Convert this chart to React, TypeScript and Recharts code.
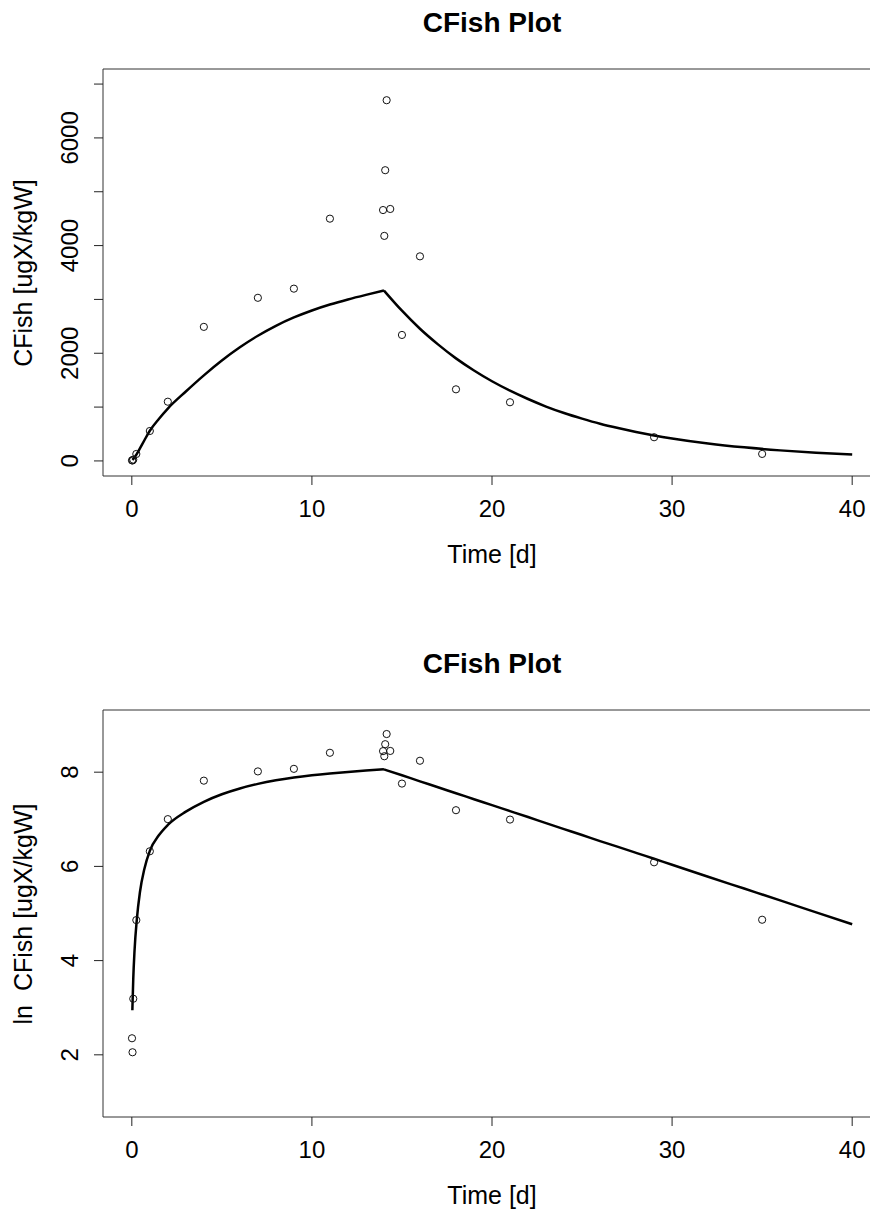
import { ComposedChart, Line, Scatter, XAxis, YAxis, ReferenceLine } from "recharts";

// measured data (time in days, CFish in ugX/kgW)
const obsTime = [0.01, 0.04, 0.08, 0.25, 1, 2, 4, 7, 9, 11, 13.95, 14.02, 14.07, 14.15, 14.35, 15, 16, 18, 21, 29, 35];
const obsConc = [10.5, 7.8, 24.3, 129, 556, 1100, 2490, 3030, 3200, 4500, 4660, 4180, 5400, 6700, 4680, 2340, 3800, 1330, 1090, 440, 130];

// fitted model curve: uptake phase, then depuration
const uptakeTime = [0.03, 0.08, 0.15, 0.28, 0.45, 0.7, 1, 1.5, 2, 3, 4, 5, 6, 7, 8, 9, 10, 11, 12, 13, 14];
const uptakeConc = [19, 37, 67, 132, 233, 384, 561, 780, 973, 1290, 1590, 1865, 2110, 2325, 2510, 2665, 2795, 2905, 3000, 3085, 3165];
const depurTime = [14, 15, 16, 17, 18, 19, 20, 21, 22, 23, 24, 25, 26, 27, 28, 29, 30, 32, 34, 36, 38, 40];
const depurConc = [3165, 2790, 2455, 2165, 1905, 1680, 1480, 1305, 1150, 1010, 890, 785, 690, 610, 538, 474, 418, 324, 252, 196, 152, 118];

const timeTicks = [0, 10, 20, 30, 40];
const concTicks = [0, 1000, 2000, 3000, 4000, 5000, 6000, 7000];
const concLabels = [0, 2000, 4000, 6000];
const lnTicks = [2, 4, 6, 8];

const FONT = "'Liberation Sans', Arial, Helvetica, sans-serif";
const X_DOMAIN: [number, number] = [-1.6, 41.6];

const pairs = (ts: number[], vs: number[], f: (v: number) => number = (v) => v) =>
  ts.map((t, i) => ({ t, v: f(vs[i]) }));

// eslint-disable-next-line @typescript-eslint/no-explicit-any
function RotatedTick({ x, y, payload, show }: any) {
  if (!show.includes(payload.value)) return <g />;
  return (
    <text x={x} y={y} transform={`rotate(-90 ${x} ${y})`} textAnchor="middle" fontSize={24} fill="#000">
      {payload.value}
    </text>
  );
}

// eslint-disable-next-line @typescript-eslint/no-explicit-any
function OpenCircle({ cx, cy }: any) {
  return <circle cx={cx} cy={cy} r={3.6} fill="none" stroke="#111" strokeWidth={1} />;
}

type Pt = { t: number; v: number };
type PanelProps = {
  top: number;
  yTitle: string;
  yDomain: [number, number];
  yTicks: number[];
  yLabels: number[];
  points: Pt[];
  curves: Pt[][];
};

function Panel({ top, yTitle, yDomain, yTicks, yLabels, points, curves }: PanelProps) {
  return (
    <div style={{ position: "absolute", left: 0, top, width: 881, height: 576 }}>
      <div
        style={{
          position: "absolute",
          left: 0,
          width: 984,
          top: 23,
          transform: "translateY(-50%)",
          textAlign: "center",
          fontSize: 28,
          fontWeight: "bold",
        }}
      >
        CFish Plot
      </div>
      <div
        style={{
          position: "absolute",
          left: 23,
          top: 272.5,
          transform: "translate(-50%, -50%) rotate(-90deg)",
          fontSize: 25,
          whiteSpace: "pre",
        }}
      >
        {yTitle}
      </div>
      <div
        style={{
          position: "absolute",
          left: 0,
          width: 984,
          top: 554,
          transform: "translateY(-50%)",
          textAlign: "center",
          fontSize: 25,
        }}
      >
        Time [d]
      </div>
      <ComposedChart width={881} height={576} margin={{ top: 69, right: 0, bottom: 0, left: 0 }}>
        <XAxis
          dataKey="t"
          type="number"
          domain={X_DOMAIN}
          ticks={timeTicks}
          interval={0}
          allowDataOverflow
          axisLine={false}
          tickSize={9}
          tickMargin={15}
          height={100}
          tickLine={{ stroke: "#222" }}
          tick={{ fontSize: 24, fill: "#000" }}
        />
        <YAxis
          dataKey="v"
          type="number"
          domain={yDomain}
          ticks={yTicks}
          interval={0}
          allowDataOverflow
          axisLine={false}
          width={103}
          tickSize={9}
          tickMargin={16}
          tickLine={{ stroke: "#222" }}
          tick={(props) => <RotatedTick {...props} show={yLabels} />}
        />
        {/* plot box: the right side falls outside the picture */}
        <ReferenceLine y={yDomain[1]} stroke="#333" strokeWidth={1} ifOverflow="visible" />
        <ReferenceLine y={yDomain[0]} stroke="#333" strokeWidth={1} ifOverflow="visible" />
        <ReferenceLine x={X_DOMAIN[0]} stroke="#333" strokeWidth={1} ifOverflow="visible" />
        {curves.map((c, i) => (
          <Line
            key={i}
            data={c}
            dataKey="v"
            type="monotone"
            stroke="#000"
            strokeWidth={2.5}
            dot={false}
            activeDot={false}
            isAnimationActive={false}
          />
        ))}
        <Scatter data={points} dataKey="v" shape={<OpenCircle />} isAnimationActive={false} />
      </ComposedChart>
    </div>
  );
}

export default function App() {
  return (
    <div
      style={{
        position: "absolute",
        left: 0,
        top: 0,
        width: 870,
        height: 1211,
        overflow: "hidden",
        background: "#fff",
        fontFamily: FONT,
        color: "#000",
      }}
    >
      <Panel
        top={0}
        yTitle="CFish [ugX/kgW]"
        yDomain={[-280, 7280]}
        yTicks={concTicks}
        yLabels={concLabels}
        points={pairs(obsTime, obsConc)}
        curves={[pairs(uptakeTime, uptakeConc), pairs(depurTime, depurConc)]}
      />
      <Panel
        top={641}
        yTitle="ln  CFish [ugX/kgW]"
        yDomain={[0.68, 9.32]}
        yTicks={lnTicks}
        yLabels={lnTicks}
        points={pairs(obsTime, obsConc, Math.log)}
        curves={[pairs(uptakeTime, uptakeConc, Math.log), pairs(depurTime, depurConc, Math.log)]}
      />
    </div>
  );
}
